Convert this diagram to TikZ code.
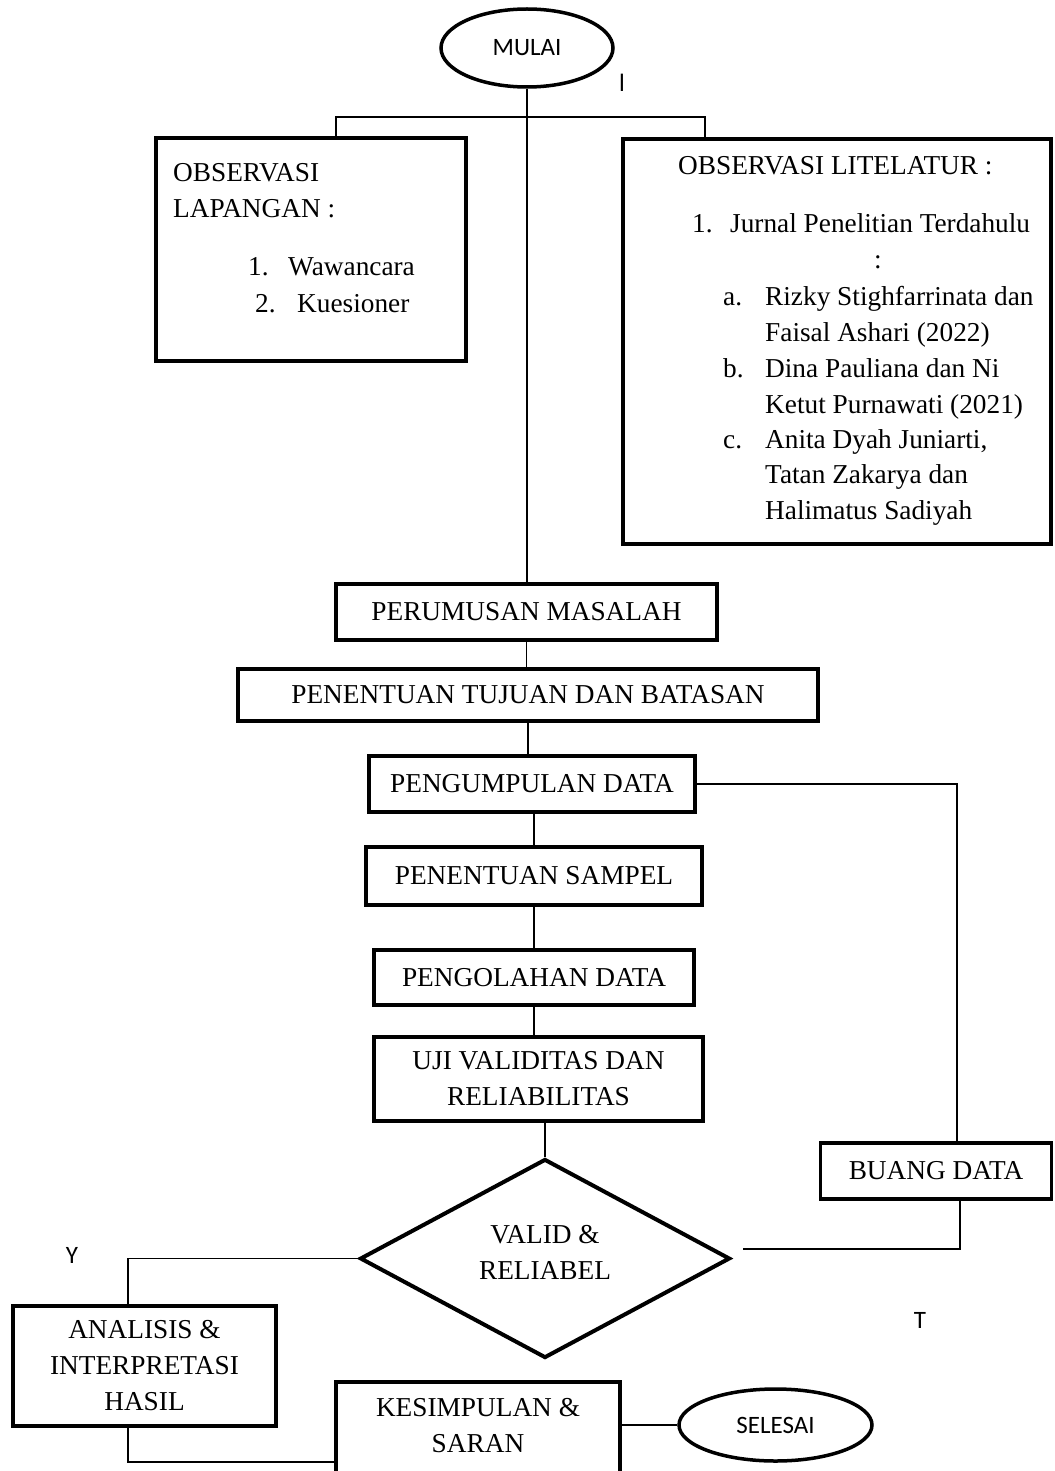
\documentclass[tikz,border=0pt]{standalone}
\usepackage{fontspec}
\setmainfont{Liberation Serif}
\newfontfamily\sansc{Carlito}
\usetikzlibrary{shapes.geometric}
\begin{document}
\begin{tikzpicture}[x=1pt,y=-1pt,
  box/.style={draw, line width=3.2pt, inner sep=0pt},
  txt/.style={font=\fontsize{27.3}{36}\selectfont, inner sep=0pt},
  stxt/.style={font=\sansc\fontsize{25}{30}\selectfont, inner sep=0pt},
  oval/.style={ellipse, draw, line width=3.5pt, inner sep=0pt},
  conn/.style={line width=1.2pt},
]
\useasboundingbox (0,0) rectangle (1054,1471);
\fill[white] (0,0) rectangle (1054,1471);

% start
\node[oval, stxt, minimum width=172pt, minimum height=78pt] (mulai) at (527,48) {MULAI};
\node[stxt, anchor=base] (mark) at (622,92) {l};

% observation boxes
\node[box, minimum width=310pt, minimum height=223pt] (obsl) at (311,249.5) {};
\node[txt, anchor=base west] (ol1) at (173,182) {OBSERVASI};
\node[txt, anchor=base west] (ol2) at (173,218) {LAPANGAN :};
\node[txt, anchor=base west] (ol3) at (248,275) {\makebox[40pt][l]{1.}Wawancara};
\node[txt, anchor=base west] (ol4) at (255,312) {\makebox[42pt][l]{2.}Kuesioner};

\node[box, minimum width=428pt, minimum height=405pt] (obsr) at (837,341.5) {};
\node[txt, anchor=base west] (or1) at (678,175) {OBSERVASI LITELATUR :};
\node[txt, anchor=base west] (or2) at (692,233) {\makebox[38pt][l]{1.}Jurnal Penelitian Terdahulu};
\node[txt, anchor=base] (or3) at (878,268) {:};
\node[txt, anchor=base west] (or4) at (723,305) {\makebox[42pt][l]{a.}Rizky Stighfarrinata dan};
\node[txt, anchor=base west] (or5) at (765,341) {Faisal Ashari (2022)};
\node[txt, anchor=base west] (or6) at (723,377) {\makebox[42pt][l]{b.}Dina Pauliana dan Ni};
\node[txt, anchor=base west] (or7) at (765,413) {Ketut Purnawati (2021)};
\node[txt, anchor=base west] (or8) at (723,448) {\makebox[42pt][l]{c.}Anita Dyah Juniarti,};
\node[txt, anchor=base west] (or9) at (765,483) {Tatan Zakarya dan};
\node[txt, anchor=base west] (or10) at (765,519) {Halimatus Sadiyah};

% flow boxes
\node[box, txt, minimum width=381pt, minimum height=56pt] (perumusan) at (526.5,612) {PERUMUSAN MASALAH};
\node[box, txt, minimum width=580pt, minimum height=52pt] (tujuan) at (528,695) {PENENTUAN TUJUAN DAN BATASAN};
\node[box, txt, minimum width=326pt, minimum height=56pt] (kumpul) at (532,784) {PENGUMPULAN DATA};
\node[box, txt, minimum width=336pt, minimum height=58pt] (sampel) at (534,876) {PENENTUAN SAMPEL};
\node[box, txt, minimum width=320pt, minimum height=55pt] (olah) at (534,977.5) {PENGOLAHAN DATA};
\node[box, txt, align=center, minimum width=329pt, minimum height=84pt] (uji) at (538.5,1079) {UJI VALIDITAS DAN\\RELIABILITAS};

\node[diamond, draw, line width=4pt, inner sep=0pt, minimum width=370pt, minimum height=199pt] (dia) at (545,1258.5) {};
\node[txt, align=center] (diat) at (545,1252) {VALID \&\\RELIABEL};

\node[box, txt, minimum width=231pt, minimum height=56pt] (buang) at (936,1171) {BUANG DATA};

\node[box, txt, align=center, minimum width=263pt, minimum height=120pt] (anal) at (144.5,1366) {ANALISIS \&\\INTERPRETASI\\HASIL};

\node[box, minimum width=284pt, minimum height=110pt] (kes) at (478,1437) {};
\node[txt, align=center] (kest) at (478,1426) {KESIMPULAN \&\\SARAN};

\node[oval, stxt, minimum width=193pt, minimum height=72pt] (selesai) at (775.5,1425) {SELESAI};

\node[stxt] (ylab) at (72,1255) {Y};
\node[stxt] (tlab) at (920,1320) {T};

% connectors
\draw[conn] (mulai.south) -- (mulai.south |- perumusan.north);
\coordinate (bl) at (336,117);
\coordinate (br) at (705,117);
\draw[conn] (bl |- obsl.north) -- (bl) -- (br) -- (br |- obsr.north);
\draw[conn] (perumusan.south) -- (perumusan.south |- tujuan.north);
\draw[conn] (tujuan.south) -- (tujuan.south |- kumpul.north);
\draw[conn] (sampel.north |- kumpul.south) -- (sampel.north);
\draw[conn] (sampel.south) -- (sampel.south |- olah.north);
\draw[conn] (olah.south) -- (olah.south |- uji.north);
\draw[conn] (dia.north |- uji.south) -- (dia.north);

\coordinate (bt) at (957,1142);
\draw[conn] (kumpul.east) -| (bt);
\coordinate (bb) at (960,1200);
\coordinate (te) at (743,1249);
\draw[conn] (bb) |- (te);

\coordinate (at) at (128,1306);
\draw[conn] (dia.west) -| (at);
\coordinate (ab) at (128,1426);
\draw[conn] (ab) |- (kes.west |- 0,1462);
\draw[conn] (selesai.west -| kes.east) -- (selesai.west);
\end{tikzpicture}
\end{document}
